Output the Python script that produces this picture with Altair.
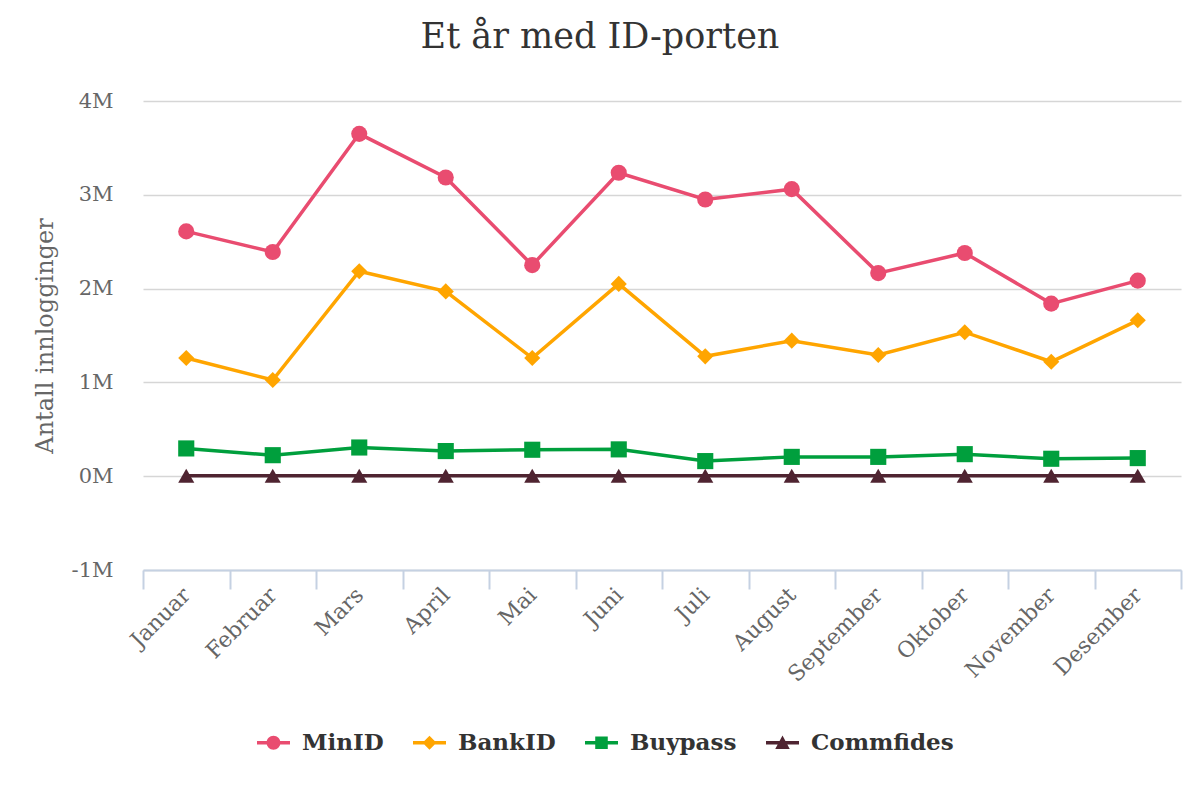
import altair as alt
import pandas as pd

months = ["Januar", "Februar", "Mars", "April", "Mai", "Juni", "Juli",
          "August", "September", "Oktober", "November", "Desember"]
series_names = ["MinID", "BankID", "Buypass", "Commfides"]
minid = [2610000, 2390000, 3650000, 3185000, 2250000, 3235000, 2950000,
         3060000, 2165000, 2380000, 1840000, 2085000]
bankid = [1260000, 1025000, 2185000, 1970000, 1260000, 2050000, 1278000,
          1445000, 1292000, 1535000, 1220000, 1662000]
buypass = [296000, 224000, 306000, 268000, 282000, 286000, 161000,
           206000, 206000, 235000, 186000, 193000]
commfides = [5000, 5000, 5000, 5000, 5000, 5000, 5000,
             5000, 5000, 5000, 5000, 5000]

colors = ["#e94c70", "#ffa500", "#009f3d", "#4f2431"]
shapes = ["circle", "diamond", "square", "triangle-up"]
legend_shapes = [
    "M-1,-0.1L1,-0.1L1,0.1L-1,0.1Z M0.42,0A0.42,0.42 0 1 1 -0.42,0A0.42,0.42 0 1 1 0.42,0Z",
    "M-1,-0.1L1,-0.1L1,0.1L-1,0.1Z M0,-0.42L0.42,0L0,0.42L-0.42,0Z",
    "M-1,-0.1L1,-0.1L1,0.1L-1,0.1Z M-0.38,-0.38L0.38,-0.38L0.38,0.38L-0.38,0.38Z",
    "M-1,-0.1L1,-0.1L1,0.1L-1,0.1Z M0,-0.44L0.44,0.38L-0.44,0.38Z",
]

rows = []
for name, vals in zip(series_names, [minid, bankid, buypass, commfides]):
    for m, v in zip(months, vals):
        rows.append({"month": m, "series": name, "lseries": name, "value": v})
df = pd.DataFrame(rows)

FONT = "DejaVu Serif"

x_enc = alt.X(
    "month:N", sort=months,
    scale=alt.Scale(paddingInner=0, paddingOuter=0),
    axis=alt.Axis(
        title=None, labelAngle=-45, tickBand="extent", grid=False,
        domainColor="#c5d1e2", domainWidth=2, tickColor="#c5d1e2",
        tickWidth=2, tickSize=19, labelFont=FONT, labelFontSize=22,
        labelColor="#666666", labelPadding=2, labelBaseline="middle",
    ),
)
y_enc = alt.Y(
    "value:Q",
    scale=alt.Scale(domain=[-1000000, 4000000], nice=False, zero=False),
    axis=alt.Axis(
        values=[-1000000, 0, 1000000, 2000000, 3000000, 4000000],
        labelExpr="(datum.value / 1000000) + 'M'",
        domain=False, ticks=False, grid=True, gridColor="#d6d6d6",
        gridWidth=1.5, labelFont=FONT, labelFontSize=21,
        labelColor="#666666", labelPadding=30,
        title="Antall innlogginger", titleFont=FONT, titleFontSize=24,
        titleFontWeight="normal", titleColor="#666666", titlePadding=14,
    ),
)

color_scale = alt.Scale(domain=series_names, range=colors)

lines = alt.Chart(df).mark_line(strokeWidth=3.5).encode(
    x=x_enc, y=y_enc,
    color=alt.Color("series:N", scale=color_scale, legend=None),
)
points = alt.Chart(df).mark_point(filled=True, size=260, opacity=1).encode(
    x=x_enc, y=y_enc,
    color=alt.Color("series:N", scale=color_scale, legend=None),
    shape=alt.Shape("series:N", scale=alt.Scale(domain=series_names, range=shapes), legend=None),
)
legend_layer = alt.Chart(df).mark_point(filled=True, opacity=0).encode(
    x=x_enc, y=y_enc,
    color=alt.Color("lseries:N", scale=alt.Scale(domain=series_names, range=colors),
                    legend=alt.Legend(title=None)),
    shape=alt.Shape("lseries:N", scale=alt.Scale(domain=series_names, range=legend_shapes),
                    legend=alt.Legend(title=None)),
)

chart = alt.layer(lines, points, legend_layer).resolve_scale(
    color="independent", shape="independent"
).properties(
    width=1038, height=469,
    title=alt.TitleParams(
        "Et år med ID-porten", font=FONT, fontSize=35, fontWeight="normal",
        color="#333333", anchor="middle", frame="group", dx=-62, offset=35,
    ),
    autosize=alt.AutoSizeParams(type="none"),
    padding={"left": 135, "top": 93, "right": 11, "bottom": 222},
).configure_view(stroke=None).configure_legend(
    orient="none", legendX=114, legendY=625, direction="horizontal",
    symbolSize=1089, symbolStrokeWidth=0, symbolOpacity=1,
    labelFont=FONT, labelFontSize=23, labelFontWeight="bold",
    labelColor="#333333", labelOffset=12, columnPadding=29, padding=0,
)

chart.save("out.html", embed_options={"renderer": "svg", "actions": False})
